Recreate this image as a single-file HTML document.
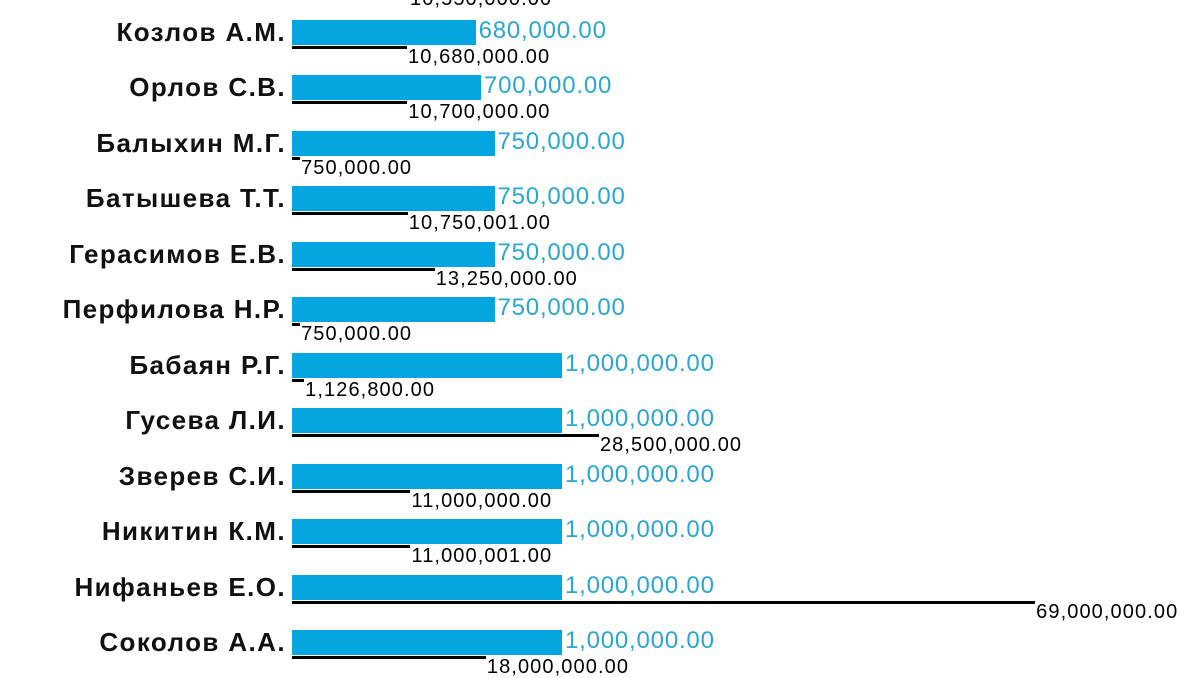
<!DOCTYPE html>
<html><head><meta charset="utf-8"><style>
body{margin:0;width:1200px;height:675px;background:#fff;overflow:hidden;position:relative;font-family:"Liberation Sans","DejaVu Sans",sans-serif}
.n{position:absolute;right:914px;font-size:26px;font-weight:bold;color:#111;line-height:28px;white-space:nowrap;letter-spacing:1.4px}
.b{position:absolute;left:292px;height:25px;background:#04a5e0}
.v{position:absolute;font-size:24px;color:#2aa6d2;line-height:26px;white-space:nowrap;letter-spacing:0.8px}
.l{position:absolute;left:292px;height:3px;background:#000}
.t{position:absolute;font-size:20px;color:#000;line-height:20px;white-space:nowrap;letter-spacing:1.1px}
</style></head><body>
<div class="t" style="left:410px;top:-11px">10,550,000.00</div>
<div id="c"></div>
<script>
var d=[["Козлов А.М.",680000,10680000,"680,000.00","10,680,000.00"],
["Орлов С.В.",700000,10700000,"700,000.00","10,700,000.00"],
["Балыхин М.Г.",750000,750000,"750,000.00","750,000.00"],
["Батышева Т.Т.",750000,10750001,"750,000.00","10,750,001.00"],
["Герасимов Е.В.",750000,13250000,"750,000.00","13,250,000.00"],
["Перфилова Н.Р.",750000,750000,"750,000.00","750,000.00"],
["Бабаян Р.Г.",1000000,1126800,"1,000,000.00","1,126,800.00"],
["Гусева Л.И.",1000000,28500000,"1,000,000.00","28,500,000.00"],
["Зверев С.И.",1000000,11000000,"1,000,000.00","11,000,000.00"],
["Никитин К.М.",1000000,11000001,"1,000,000.00","11,000,001.00"],
["Нифаньев Е.О.",1000000,69000000,"1,000,000.00","69,000,000.00"],
["Соколов А.А.",1000000,18000000,"1,000,000.00","18,000,000.00"]];
var h="";
d.forEach(function(r,i){var y=20+i*55.45;var bw=r[1]/1e6*270;var lw=r[2]/1e6*10.77;
h+='<div class="n" style="top:'+(y-2)+'px">'+r[0]+'</div>';
h+='<div class="b" style="top:'+y+'px;width:'+bw+'px"></div>';
h+='<div class="v" style="left:'+(292+bw+3)+'px;top:'+(y-2)+'px">'+r[3]+'</div>';
h+='<div class="l" style="top:'+(y+26)+'px;width:'+lw+'px"></div>';
h+='<div class="t" style="left:'+(292+lw+1)+'px;top:'+(y+27)+'px">'+r[4]+'</div>';});
document.getElementById("c").innerHTML=h;
</script>
</body></html>
